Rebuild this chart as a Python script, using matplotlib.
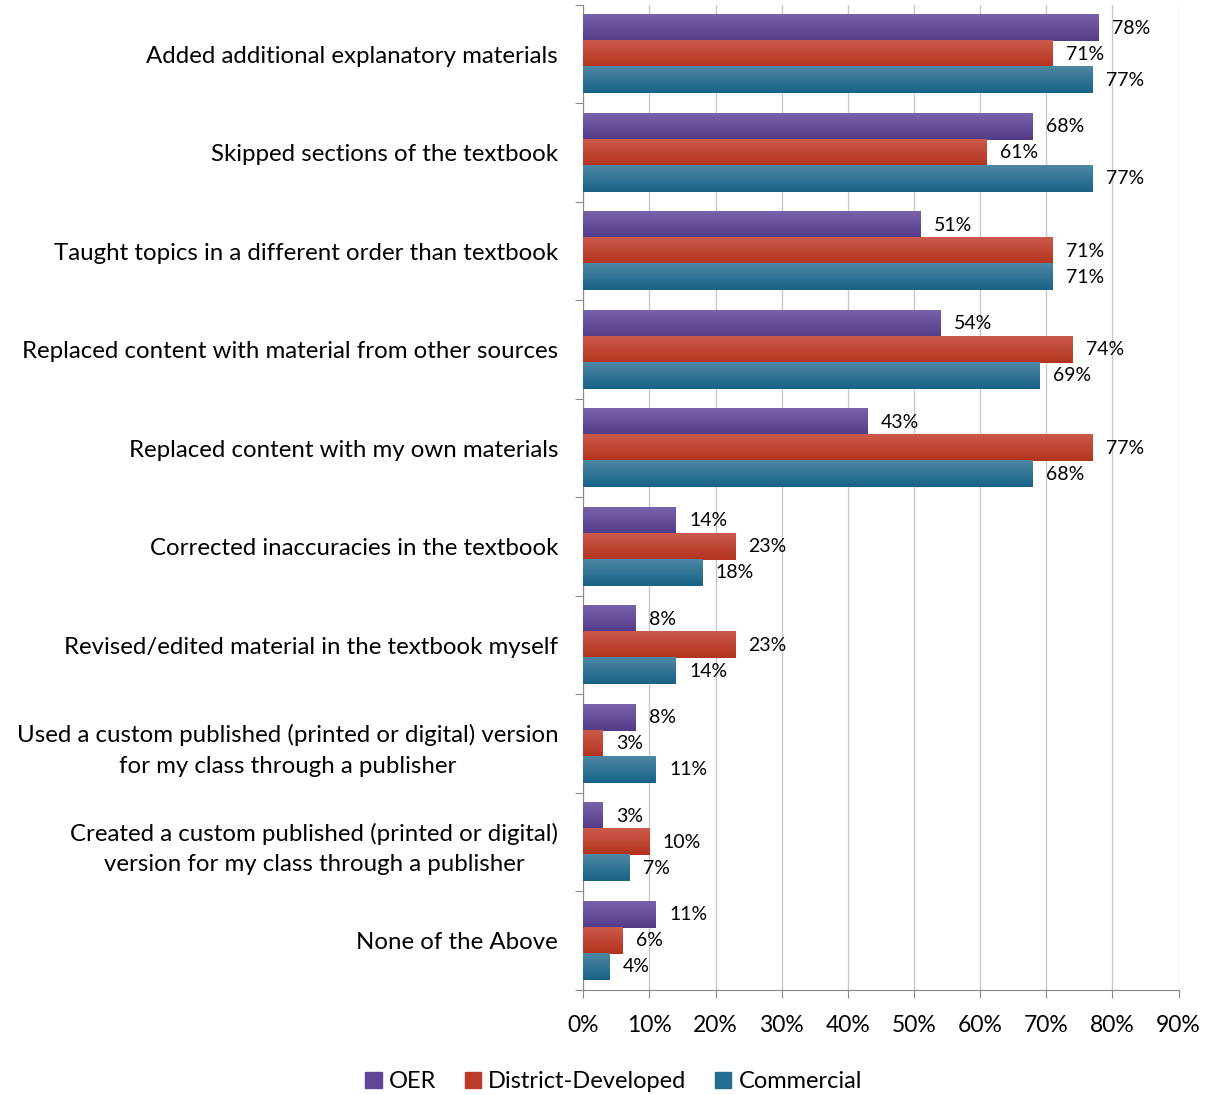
import numpy as np
import matplotlib.pyplot as plt
from matplotlib.patches import Patch
from matplotlib.colors import LinearSegmentedColormap

categories = [
    "Added additional explanatory materials",
    "Skipped sections of the textbook",
    "Taught topics in a different order than textbook",
    "Replaced content with material from other sources",
    "Replaced content with my own materials",
    "Corrected inaccuracies in the textbook",
    "Revised/edited material in the textbook myself",
    "Used a custom published (printed or digital) version\nfor my class through a publisher",
    "Created a custom published (printed or digital)\nversion for my class through a publisher",
    "None of the Above",
]
oer = [78, 68, 51, 54, 43, 14, 8, 8, 3, 11]
district = [71, 61, 71, 74, 77, 23, 23, 3, 10, 6]
commercial = [77, 77, 71, 69, 68, 18, 14, 11, 7, 4]

series = ["OER", "District-Developed", "Commercial"]
colors = ["#5f4796", "#bb3d27", "#226c8f"]
# top / bottom shades for the excel-like gradient
grads = [("#7862aa", "#523c8a"), ("#cb5a4c", "#b3331d"), ("#4d87a3", "#186286")]

plt.rcParams['font.family'] = ['Lato', 'DejaVu Sans']

fig = plt.figure(figsize=(12.15, 10.95), dpi=100)
ax = fig.add_axes([0.48, 0.096, 0.49, 0.8995])

n = len(categories)
y = np.arange(n)
h = 0.265
offsets = [-h, 0, h]
grad = np.linspace(0, 1, 64).reshape(-1, 1)
for vals, off, c, g in zip([oer, district, commercial], offsets, colors, grads):
    cmap = LinearSegmentedColormap.from_list("g", [g[0], g[1]])
    bars = ax.barh(y + off, vals, height=h, color=c, zorder=3)
    for b, v in zip(bars, vals):
        y0 = b.get_y()
        ax.imshow(grad, cmap=cmap, aspect='auto', origin='upper',
                  extent=[0, v, y0 + h, y0], zorder=3.5)
        ax.text(v + 2.0, y0 + h / 2, f"{v}%",
                va='center', ha='left', fontsize=14)

ax.set_ylim(n - 0.5, -0.5)
ax.set_xlim(0, 90)
ax.set_xticks(np.arange(0, 91, 10))
ax.set_xticklabels([f"{t}%" for t in range(0, 91, 10)], fontsize=16.5)
ax.xaxis.grid(True, color="#c8c8c8", linewidth=1, zorder=0)

ax.set_yticks(np.arange(-0.5, n, 1.0))
ax.set_yticklabels([])
ax.set_yticks(y, minor=True)
ax.set_yticklabels(categories, minor=True, fontsize=17.3, multialignment='center',
                   linespacing=1.55)
ax.tick_params(axis='y', which='minor', length=0, pad=18)
ax.tick_params(axis='y', which='major', length=6, color="#888888")
ax.tick_params(axis='x', length=6, color="#888888", pad=12)

for s in ['top', 'right']:
    ax.spines[s].set_visible(False)
ax.spines['left'].set_color("#888888")
ax.spines['bottom'].set_color("#888888")

handles = [Patch(color=c, label=s) for c, s in zip(colors, series)]
fig.legend(handles=handles, loc='center', bbox_to_anchor=(0.505, 0.012), ncol=3,
           frameon=False, fontsize=17, handlelength=0.7, handleheight=0.7,
           handletextpad=0.3, columnspacing=1.2)

fig.savefig("out.png", dpi=100)
